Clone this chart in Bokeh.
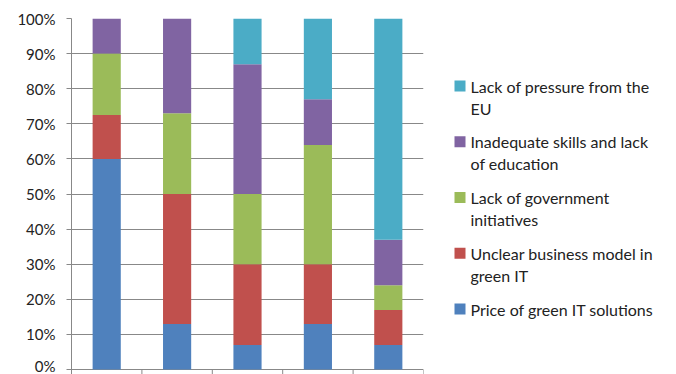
from bokeh.plotting import figure
from bokeh.models import ColumnDataSource, Range1d, FixedTicker, PrintfTickFormatter
from bokeh.layouts import row
from bokeh.embed import file_html
from bokeh.resources import INLINE
from bokeh.core.properties import value

# ---- data ----
categories = [0.5, 1.5, 2.5, 3.5, 4.5]
price = [60, 13, 7, 13, 7]
unclear = [12.5, 37, 23, 17, 10]
government = [17.5, 23, 20, 34, 7]
skills = [10, 27, 37, 13, 13]
pressure = [0, 0, 13, 23, 63]

series_keys = ["price", "unclear", "government", "skills", "pressure"]
series_names = [
    "Price of green IT solutions",
    "Unclear business model  in\ngreen IT",
    "Lack of government\ninitiatives",
    "Inadequate skills and lack\nof education",
    "Lack of pressure from the\nEU",
]
colors = ["#4F81BD", "#C0504D", "#9BBB59", "#8064A2", "#4BACC6"]
y_ticks = [0, 10, 20, 30, 40, 50, 60, 70, 80, 90, 100]
x_ticks = [0, 1, 2, 3, 4, 5]

FONT = "Lato"
TXT = "#222222"
GRID = "#888888"
TICK_DEPTH = 1.4  # x tick length below 0, in value units
TOP = 18

source = ColumnDataSource(dict(x=categories, price=price, unclear=unclear,
                               government=government, skills=skills, pressure=pressure))

p = figure(width=430, height=374, x_range=Range1d(0, 5), y_range=Range1d(-TICK_DEPTH, 100),
           output_backend="svg", toolbar_location=None, title=None,
           min_border_left=71, min_border_right=7, min_border_top=TOP, min_border_bottom=0)
p.outline_line_color = None
p.background_fill_color = "white"
p.border_fill_color = "white"
p.xaxis.visible = False

p.vbar_stack(series_keys, x="x", width=0.4, color=colors, line_color=None, source=source)

# category separator ticks below the 0 line
p.segment(x0=x_ticks, y0=[-TICK_DEPTH] * len(x_ticks), x1=x_ticks, y1=[0] * len(x_ticks),
          line_color=GRID, line_width=1)

p.xgrid.grid_line_color = None
p.ygrid.grid_line_color = GRID
p.ygrid.grid_line_width = 1
p.ygrid.ticker = FixedTicker(ticks=y_ticks)

ya = p.yaxis[0]
ya.ticker = FixedTicker(ticks=y_ticks)
ya.formatter = PrintfTickFormatter(format="%d%%")
ya.axis_line_color = GRID
ya.major_tick_line_color = GRID
ya.major_tick_out = 5
ya.major_tick_in = 0
ya.minor_tick_line_color = None
ya.major_label_standoff = 11
ya.major_label_text_font = FONT
ya.major_label_text_font_size = "15px"
ya.major_label_text_color = TXT

# ---- legend panel (frame aligned with main frame: pixels TOP..374) ----
L = figure(width=246, height=374, x_range=Range1d(0, 246), y_range=Range1d(374, TOP),
           output_backend="svg", toolbar_location=None, title=None,
           min_border=0, min_border_left=0, min_border_right=0,
           min_border_top=TOP, min_border_bottom=0)
L.axis.visible = False
L.grid.visible = False
L.outline_line_color = None

order = list(range(len(series_names)))[::-1]
sq_x, sq_y, sq_c = [], [], []
tx, ty, tt = [], [], []
for k, i in enumerate(order):
    y0 = 85.5 + 55.75 * k
    sq_x.append(29.5)
    sq_y.append(y0)
    sq_c.append(colors[i])
    for j, line in enumerate(series_names[i].split("\n")):
        tx.append(40)
        ty.append(y0 + 22 * j)
        tt.append(line)

L.rect(x=sq_x, y=sq_y, width=11, height=11, color=sq_c, line_color=None)
L.text(x=tx, y=ty, text=tt, text_font=value(FONT), text_font_size="16px",
       text_color=TXT, text_align="left", text_baseline="middle")

layout = row(p, L)
open("out.html", "w").write(file_html(layout, INLINE))
